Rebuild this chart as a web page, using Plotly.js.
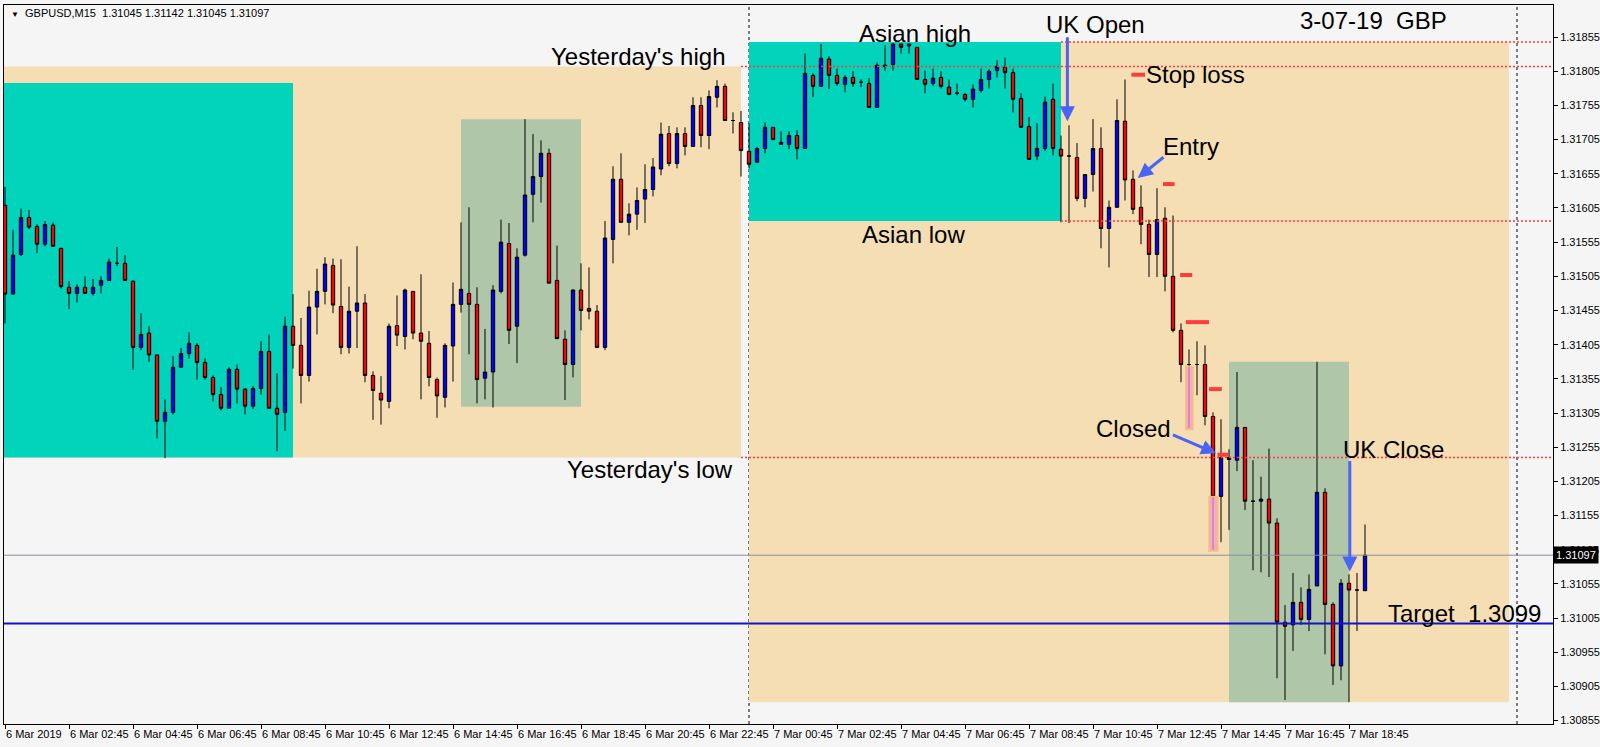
<!DOCTYPE html>
<html><head><meta charset="utf-8">
<script src="https://cdn.plot.ly/plotly-3.0.1.min.js"></script>
<style>html,body{margin:0;padding:0;background:#f5f5f5;}#chart{width:1600px;height:747px;}</style>
</head><body><div id="chart"></div>
<script>
// ---------------- DATA ----------------
const symbol = 'GBPUSD,M15';
const startTime = '2019-03-06T00:45:00Z';   // first visible M15 bar
const barMinutes = 15;

const open = [
1.31609,1.31479,1.31537,1.31591,1.31578,1.31552,1.31580,1.31546,1.31489,1.31480,
1.31489,1.31480,1.31492,1.31499,1.31524,1.31524,1.31498,1.31401,1.31422,1.31390,
1.31293,1.31306,1.31372,1.31392,1.31404,1.31379,1.31357,1.31332,1.31312,1.31369,
1.31340,1.31315,1.31341,1.31395,1.31312,1.31306,1.31432,1.31404,1.31360,1.31460,
1.31483,1.31521,1.31461,1.31401,1.31454,1.31466,1.31360,1.31334,1.31322,1.31433,
1.31417,1.31483,1.31422,1.31407,1.31354,1.31328,1.31403,1.31464,1.31480,1.31464,
1.31356,1.31365,1.31483,1.31553,1.31432,1.31536,1.31625,1.31651,1.31685,1.31499,
1.31413,1.31376,1.31485,1.31458,1.31454,1.31401,1.31559,1.31647,1.31584,1.31596,
1.31618,1.31632,1.31662,1.31714,1.31670,1.31714,1.31695,1.31755,1.31711,1.31767,
1.31783,1.31733,1.31730,1.31688,1.31672,1.31692,1.31723,1.31701,1.31698,1.31711,
1.31692,1.31799,1.31783,1.31823,1.31799,1.31786,1.31796,1.31789,1.31787,1.31752,
1.31814,1.31815,1.31845,1.31842,1.31840,1.31793,1.31787,1.31796,1.31782,1.31773,
1.31771,1.31764,1.31777,1.31793,1.31806,1.31811,1.31803,1.31765,1.31724,1.31681,
1.31692,1.31764,1.31691,1.31681,1.31679,1.31619,1.31654,1.31692,1.31575,1.31606,
1.31732,1.31647,1.31606,1.31581,1.31537,1.31590,1.31505,1.31426,1.31376,1.31376,
1.31376,1.31300,1.31183,1.31240,1.31236,1.31284,1.31176,1.31176,1.31179,1.31144,
1.30999,1.30995,1.31028,1.31003,1.31052,1.31189,1.31025,1.30935,1.31056,1.31046,
1.31045];
const high = [
1.31636,1.31573,1.31604,1.31602,1.31581,1.31586,1.31584,1.31546,1.31498,1.31493,
1.31505,1.31501,1.31505,1.31531,1.31548,1.31536,1.31498,1.31451,1.31432,1.31390,
1.31325,1.31388,1.31400,1.31423,1.31407,1.31385,1.31360,1.31343,1.31372,1.31376,
1.31341,1.31344,1.31410,1.31420,1.31363,1.31446,1.31479,1.31444,1.31484,1.31516,
1.31533,1.31531,1.31530,1.31490,1.31549,1.31479,1.31366,1.31359,1.31436,1.31477,
1.31487,1.31483,1.31508,1.31425,1.31357,1.31407,1.31496,1.31584,1.31606,1.31489,
1.31428,1.31492,1.31588,1.31583,1.31546,1.31735,1.31713,1.31704,1.31692,1.31550,
1.31426,1.31486,1.31524,1.31518,1.31463,1.31586,1.31666,1.31685,1.31612,1.31635,
1.31669,1.31678,1.31730,1.31725,1.31723,1.31723,1.31767,1.31767,1.31777,1.31792,
1.31787,1.31745,1.31747,1.31729,1.31694,1.31730,1.31723,1.31717,1.31717,1.31719,
1.31831,1.31802,1.31845,1.31827,1.31809,1.31799,1.31805,1.31793,1.31795,1.31818,
1.31843,1.31847,1.31845,1.31845,1.31840,1.31806,1.31809,1.31805,1.31793,1.31787,
1.31773,1.31786,1.31809,1.31808,1.31821,1.31825,1.31809,1.31773,1.31738,1.31729,
1.31768,1.31787,1.31711,1.31726,1.31700,1.31654,1.31735,1.31723,1.31616,1.31764,
1.31793,1.31660,1.31638,1.31588,1.31634,1.31606,1.31594,1.31436,1.31398,1.31410,
1.31404,1.31306,1.31296,1.31252,1.31365,1.31284,1.31236,1.31212,1.31253,1.31151,
1.31024,1.31071,1.31050,1.31069,1.31380,1.31195,1.31028,1.31062,1.31069,1.31071,
1.31142];
const low = [
1.31436,1.31479,1.31535,1.31574,1.31539,1.31549,1.31549,1.31487,1.31457,1.31467,
1.31480,1.31477,1.31480,1.31498,1.31520,1.31498,1.31368,1.31397,1.31380,1.31268,
1.31239,1.31303,1.31372,1.31385,1.31354,1.31354,1.31322,1.31309,1.31312,1.31319,
1.31303,1.31311,1.31332,1.31312,1.31249,1.31279,1.31370,1.31319,1.31351,1.31420,
1.31464,1.31451,1.31391,1.31392,1.31400,1.31350,1.31295,1.31288,1.31312,1.31403,
1.31398,1.31413,1.31325,1.31344,1.31298,1.31313,1.31351,1.31452,1.31391,1.31319,
1.31325,1.31313,1.31480,1.31406,1.31378,1.31534,1.31584,1.31613,1.31495,1.31413,
1.31324,1.31357,1.31426,1.31442,1.31401,1.31397,1.31524,1.31584,1.31565,1.31573,
1.31583,1.31622,1.31653,1.31666,1.31663,1.31682,1.31695,1.31694,1.31691,1.31752,
1.31733,1.31714,1.31651,1.31663,1.31672,1.31685,1.31705,1.31698,1.31691,1.31676,
1.31692,1.31767,1.31782,1.31779,1.31784,1.31774,1.31782,1.31782,1.31752,1.31752,
1.31806,1.31806,1.31831,1.31831,1.31793,1.31773,1.31784,1.31780,1.31770,1.31770,
1.31761,1.31752,1.31774,1.31780,1.31796,1.31780,1.31745,1.31723,1.31676,1.31675,
1.31689,1.31682,1.31584,1.31583,1.31615,1.31606,1.31629,1.31546,1.31518,1.31606,
1.31616,1.31596,1.31552,1.31504,1.31504,1.31483,1.31423,1.31350,1.31283,1.31331,
1.31287,1.31105,1.31116,1.31134,1.31220,1.31163,1.31075,1.31072,1.31065,1.30917,
1.30885,1.30957,1.30995,1.30986,1.31052,1.30952,1.30907,1.30914,1.30882,1.30986,
1.31045];
const close = [
1.31479,1.31536,1.31591,1.31577,1.31552,1.31581,1.31549,1.31490,1.31480,1.31489,
1.31480,1.31489,1.31499,1.31526,1.31524,1.31499,1.31401,1.31420,1.31390,1.31293,
1.31306,1.31372,1.31392,1.31407,1.31379,1.31357,1.31332,1.31312,1.31369,1.31340,
1.31315,1.31341,1.31395,1.31312,1.31303,1.31432,1.31404,1.31360,1.31460,1.31483,
1.31523,1.31463,1.31401,1.31454,1.31466,1.31360,1.31338,1.31324,1.31432,1.31419,
1.31485,1.31422,1.31410,1.31357,1.31330,1.31404,1.31464,1.31486,1.31464,1.31354,
1.31365,1.31485,1.31555,1.31426,1.31533,1.31624,1.31651,1.31685,1.31495,1.31414,
1.31376,1.31485,1.31455,1.31454,1.31401,1.31561,1.31647,1.31584,1.31596,1.31616,
1.31632,1.31665,1.31713,1.31670,1.31714,1.31695,1.31755,1.31711,1.31768,1.31783,
1.31733,1.31733,1.31689,1.31669,1.31692,1.31723,1.31705,1.31698,1.31711,1.31692,
1.31802,1.31783,1.31824,1.31799,1.31787,1.31796,1.31787,1.31789,1.31752,1.31814,
1.31812,1.31845,1.31840,1.31845,1.31793,1.31786,1.31795,1.31783,1.31771,1.31773,
1.31764,1.31779,1.31793,1.31805,1.31812,1.31803,1.31764,1.31723,1.31676,1.31692,
1.31760,1.31692,1.31681,1.31681,1.31619,1.31654,1.31692,1.31575,1.31606,1.31733,
1.31646,1.31603,1.31581,1.31537,1.31588,1.31505,1.31426,1.31376,1.31376,1.31376,
1.31300,1.31183,1.31240,1.31237,1.31284,1.31176,1.31176,1.31179,1.31144,1.30999,
1.30993,1.31028,1.31003,1.31047,1.31189,1.31025,1.30935,1.31056,1.31046,1.31046,
1.31097];

const tickLabels = ['6 Mar 2019','6 Mar 02:45','6 Mar 04:45','6 Mar 06:45','6 Mar 08:45','6 Mar 10:45',
  '6 Mar 12:45','6 Mar 14:45','6 Mar 16:45','6 Mar 18:45','6 Mar 20:45','6 Mar 22:45',
  '7 Mar 00:45','7 Mar 02:45','7 Mar 04:45','7 Mar 06:45','7 Mar 08:45','7 Mar 10:45',
  '7 Mar 12:45','7 Mar 14:45','7 Mar 16:45','7 Mar 18:45'];
const barsPerTick = 8;

// key levels (prices)
const yesterdayHigh = 1.31812, yesterdayLow = 1.31240;
const asianHigh = 1.31848, asianLow = 1.31586;
const todayLow = 1.30882;
const prevAsiaTop = 1.31788;
const targetPrice = 1.30997;
const box1 = [1.31314, 1.31735];
const box2 = [1.30882, 1.31380];

// bar indices of session events
const yesterdayEnd = 92, todayStart = 93, asianEnd = 132, todayEnd = 188, nextDay = 189;
const prevAsiaEnd = 36, box1Bars = [57, 72], box2Bars = [153, 168];

// trade-level marks [startBar, endBar, price]
const tradeMarks = [[140.8,142.5,1.31800],[144.75,146.2,1.31640],[146.9,148.4,1.31507],
  [147.6,150.5,1.31438],[150.5,152.1,1.31340],[151.55,152.9,1.31244]];
const highlightBoxes = [[147.6,148.5,1.31281,1.31373],[150.5,151.6,1.31103,1.31183]];

// text labels [text, bar, price, anchor]
const labels = [
  ["Yesterday's high", 90.2, 1.31827, 'right'],
  ['Asian high', 113.8, 1.31861, 'center'],
  ['UK Open', 136.3, 1.31873, 'center'],
  ['3-07-19  GBP', 171.1, 1.31880, 'center'],
  ['Stop loss', 148.8, 1.31800, 'center'],
  ['Entry', 148.2, 1.31695, 'center'],
  ['Asian low', 113.5, 1.31566, 'center'],
  ['Closed', 141.0, 1.31282, 'center'],
  ["Yesterday's low", 91.2, 1.31223, 'right'],
  ['UK Close', 173.6, 1.31252, 'center'],
  ['Target  1.3099', 192.3, 1.31011, 'right']
];
// arrows [tailBar, tailPrice, headBar, headPrice]
const arrows = [[132.8,1.31857,132.8,1.31732],[145.0,1.31681,141.6,1.31649],
  [145.8,1.31274,151.4,1.31246],[168.1,1.31237,168.1,1.31073]];

// ---------------- BUILD ----------------
const t0 = Date.parse(startTime);
const times = open.map((_, i) => new Date(t0 + i * barMinutes * 60000).toISOString().slice(0,16).replace('T',' '));
const idx = times.map((_, i) => i);
const last = open.length - 1;
const bidPrice = close[last];

const smallFont = {family:'Liberation Sans Narrow, Arial Narrow, Liberation Sans, Arial', size:11, color:'#000'};
const bigFont = {family:'Liberation Sans, Arial, sans-serif', size:24, color:'#000'};

const trace = {
  type:'candlestick', x: idx, open, high, low, close, text: times, hoverinfo:'x+text',
  increasing:{fillcolor:'#0000ff', line:{color:'#000000', width:1}},
  decreasing:{fillcolor:'#ff0000', line:{color:'#000000', width:1}},
  whiskerwidth:0, showlegend:false
};

const BEIGE = '#f5deb3', TEAL = '#02d3bb', SAGE = '#b0c6a9', RED = '#ff3b3b', ARROW = '#4a64f5';
function rect(k0, k1, p0, p1, fill) {
  return {type:'rect', xref:'x', yref:'y', x0:k0, x1:k1, y0:p0, y1:p1, fillcolor:fill, line:{width:0}, layer:'below'};
}
function hline(p, k0, color, dash, w) {
  return {type:'line', xref:'x', yref:'y', x0:k0, x1:400, y0:p, y1:p, line:{color, dash, width:w}, layer:'above'};
}
const shapes = [
  rect(-5, yesterdayEnd, yesterdayLow, yesterdayHigh, BEIGE),
  rect(todayStart, todayEnd, todayLow, asianHigh, BEIGE),
  rect(-5, prevAsiaEnd, yesterdayLow, prevAsiaTop, TEAL),
  rect(todayStart, asianEnd, asianLow, asianHigh, TEAL),
  rect(box1Bars[0], box1Bars[1], box1[0], box1[1], SAGE),
  rect(box2Bars[0], box2Bars[1], box2[0], box2[1], SAGE),
  {type:'line', xref:'x', yref:'paper', x0:todayStart, x1:todayStart, y0:0, y1:1, line:{color:'#000', dash:'3px,3px', width:1}, layer:'below'},
  {type:'line', xref:'x', yref:'paper', x0:nextDay, x1:nextDay, y0:0, y1:1, line:{color:'#000', dash:'3px,3px', width:1}, layer:'below'},
  hline(yesterdayHigh, yesterdayEnd, RED, '2px,2px', 1.5),
  hline(yesterdayLow, yesterdayEnd, RED, '2px,2px', 1.5),
  hline(asianHigh, asianEnd, RED, '2px,2px', 1.5),
  hline(asianLow, asianEnd, RED, '2px,2px', 1.5),
  {type:'line', xref:'paper', yref:'y', x0:0, x1:1, y0:bidPrice, y1:bidPrice, line:{color:'#8a8f9c', width:1}, layer:'above'},
  {type:'line', xref:'paper', yref:'y', x0:0, x1:1, y0:targetPrice, y1:targetPrice, line:{color:'#1414c8', width:2}, layer:'above'}
];
tradeMarks.forEach(m => shapes.push({type:'line', xref:'x', yref:'y', x0:m[0], x1:m[1], y0:m[2], y1:m[2], line:{color:RED, width:4}, layer:'above'}));
highlightBoxes.forEach(b => shapes.push({type:'rect', xref:'x', yref:'y', x0:b[0], x1:b[1], y0:b[2], y1:b[3], fillcolor:'rgba(246,150,210,0.75)', line:{color:'rgba(245,195,110,0.95)', width:1.5}, layer:'above'}));

const annotations = labels.map(l => ({xref:'x', yref:'y', x:l[1], y:l[2], text:l[0], showarrow:false, xanchor:l[3], yanchor:'middle', font:bigFont}));
arrows.forEach(a => annotations.push({xref:'x', yref:'y', axref:'x', ayref:'y', x:a[2], y:a[3], ax:a[0], ay:a[1], text:'', showarrow:true, arrowhead:2, arrowsize:1, arrowwidth:3, arrowcolor:ARROW}));
annotations.push({xref:'paper', yref:'paper', x:0.0035, y:0.9895, xanchor:'left', yanchor:'middle', showarrow:false,
  text:'<span style="font-size:8px">▼</span>  ' + symbol + '  ' + [open[last], high[last], low[last], close[last]].map(v => v.toFixed(5)).join(' '), font:smallFont});
annotations.push({xref:'paper', yref:'y', x:1, y:bidPrice, xanchor:'left', yanchor:'middle', showarrow:false, text:bidPrice.toFixed(5),
  bgcolor:'#000', borderpad:2, font:{family:smallFont.family, size:11, color:'#fff'}});

const layout = {
  width:1600, height:747, margin:{l:4, r:47, t:5, b:23},
  paper_bgcolor:'#f5f5f5', plot_bgcolor:'#f5f5f5', showlegend:false, boxgap:0.4,
  xaxis:{type:'linear', range:[-0.125, 193.5], rangeslider:{visible:false}, showgrid:false, zeroline:false,
    showline:true, linecolor:'#000', linewidth:1, mirror:true, ticks:'outside', ticklen:4, tickcolor:'#000',
    tickvals: tickLabels.map((_, i) => i * barsPerTick), ticktext: tickLabels, ticklabelposition:'outside right',
    tickangle:0, tickfont:smallFont, fixedrange:true},
  yaxis:{side:'right', range:[1.30850, 1.31902], showgrid:false, zeroline:false, showline:true, linecolor:'#000', linewidth:1, mirror:true,
    ticks:'outside', ticklen:4, tickcolor:'#000', tick0:1.30855, dtick:0.0005, tickformat:'.5f', tickfont:smallFont, fixedrange:true},
  shapes, annotations
};
Plotly.newPlot('chart', [trace], layout, {displayModeBar:false, staticPlot:true});
</script></body></html>
